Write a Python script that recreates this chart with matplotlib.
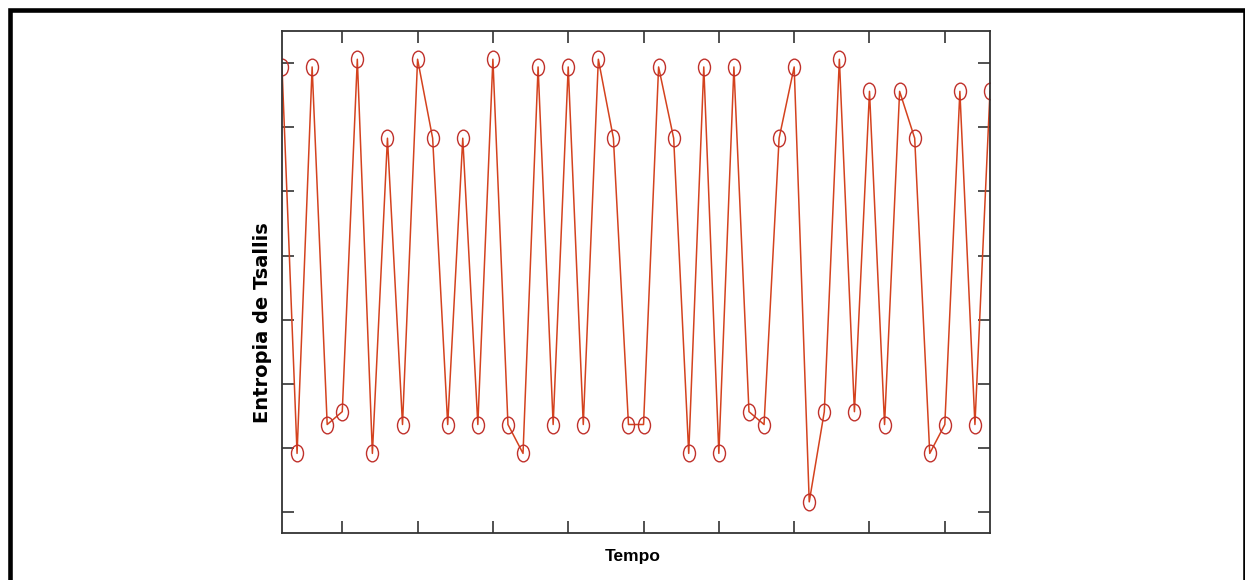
import matplotlib
matplotlib.use("Agg")
import matplotlib.pyplot as plt
from matplotlib.path import Path
from matplotlib.transforms import Affine2D
from matplotlib.patches import Rectangle

# time steps and entropy values (arbitrary units, tick step = 1)
tempo = list(range(1, 49))
entropia = [
    6.94, 0.92, 6.94, 1.37, 1.57, 7.06, 0.92, 5.83, 1.37, 7.06,
    5.83, 1.37, 5.83, 1.37, 7.06, 1.37, 0.92, 6.94, 1.37, 6.94,
    1.37, 7.06, 5.83, 1.37, 1.37, 6.94, 5.83, 0.92, 6.94, 0.92,
    6.94, 1.57, 1.37, 5.83, 6.94, 0.165, 1.57, 7.06, 1.57, 6.56,
    1.37, 6.56, 5.83, 0.92, 1.37, 6.56, 1.37, 6.56,
]
xticks = [5, 10, 15, 20, 25, 30, 35, 40, 45]
yticks = [0, 1, 2, 3, 4, 5, 6, 7]

W, H = 1245, 580
fig = plt.figure(figsize=(W / 100, H / 100), dpi=100)

# outer black frame (bottom edge falls outside the picture)
fig.patches.append(Rectangle((9.5 / W, -0.05), (1244.5 - 9.5) / W, 1.05 - 9.5 / H,
                             transform=fig.transFigure, fill=False,
                             edgecolor="black", linewidth=3.3))

ax = fig.add_axes([282 / W, 1 - 533 / H, (990 - 282) / W, (533 - 31) / H])

# slightly tall ellipse as marker, like the stretched original
ellipse = Path.unit_circle().transformed(Affine2D().scale(0.72, 1.0))

ax.plot(tempo, entropia, color="#d4421e", linewidth=1.1,
        marker=ellipse, markersize=12, markerfacecolor="none",
        markeredgecolor="#c0302a", markeredgewidth=1.0)

ax.set_xlim(1, 48)
ax.set_ylim(-0.32, 7.5)
ax.set_xticks(xticks)
ax.set_yticks(yticks)
ax.tick_params(direction="in", length=8.5, width=1.1, color="#222222",
               top=True, right=True, labelbottom=False, labelleft=False)
for s in ax.spines.values():
    s.set_color("#333333")
    s.set_linewidth(1.3)

fig.text(263 / W, 1 - 323 / H, "Entropia de Tsallis", rotation=90,
         ha="center", va="center", fontsize=14, fontweight="bold",
         family=["DejaVu Sans"])
fig.text(633 / W, 1 - 557 / H, "Tempo", ha="center", va="center",
         fontsize=12.5, fontweight="bold",
         family=["Liberation Sans", "DejaVu Sans"])

fig.savefig("out.png", dpi=100)
